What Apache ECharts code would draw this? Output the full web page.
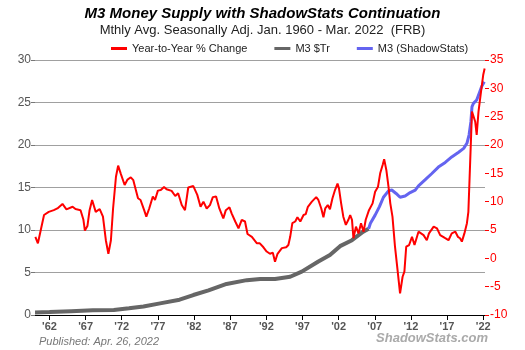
<!DOCTYPE html>
<html>
<head>
<meta charset="utf-8">
<script src="https://cdn.jsdelivr.net/npm/echarts@6/dist/echarts.min.js"></script>
<style>html,body{margin:0;padding:0;background:#fff}#c{width:525px;height:350px}</style>
</head>
<body>
<div id="c"></div>
<script>
// Year-to-Year % change (right axis)
var redYears = [1960.05,1960.4,1960.8,1961.25,1961.9,1962.6,1963.1,1963.8,1964.35,1965.2,1965.6,1966.3,1966.7,1966.9,1967.25,1967.55,1967.9,1968.4,1968.95,1969.4,1969.8,1970.15,1970.5,1970.8,1971.2,1971.5,1971.85,1972.1,1972.4,1972.8,1973.25,1973.6,1973.95,1974.25,1974.6,1975.1,1975.4,1975.8,1976.3,1976.6,1977.0,1977.4,1977.85,1978.2,1978.9,1979.4,1979.8,1980.3,1980.75,1981.2,1981.9,1982.45,1982.9,1983.3,1983.75,1984.2,1984.6,1985.05,1985.5,1986.05,1986.4,1986.9,1987.2,1987.7,1988.15,1988.6,1989.05,1989.4,1990.0,1990.7,1991.1,1991.6,1992.05,1992.5,1992.9,1993.2,1993.55,1994.15,1994.75,1995.05,1995.3,1995.6,1996.0,1996.3,1996.7,1997.15,1997.45,1997.75,1998.3,1998.9,1999.2,1999.6,1999.9,2000.15,2000.5,2000.8,2001.15,2001.5,2001.85,2002.05,2002.35,2002.65,2003.0,2003.35,2003.6,2003.85,2004.05,2004.4,2004.75,2005.1,2005.45,2005.75,2006.2,2006.7,2007.05,2007.45,2007.75,2008.1,2008.3,2008.6,2008.9,2009.15,2009.45,2009.8,2010.15,2010.5,2010.85,2011.1,2011.35,2011.75,2012.15,2012.5,2013.05,2013.75,2014.2,2014.5,2015.15,2015.6,2016.05,2016.75,2017.2,2017.65,2018.15,2018.5,2018.8,2019.05,2019.4,2019.75,2019.95,2020.2,2020.45,2020.6,2020.9,2021.1,2021.35,2021.7,2022.0,2022.2];
var redPct = [3.8,2.65,5.0,7.65,8.2,8.5,8.8,9.6,8.65,9.1,8.7,8.5,6.8,4.9,5.7,8.5,10.3,8.2,8.7,7.35,3.2,0.8,3.2,8.8,14.4,16.35,15.0,14.7,12.95,13.9,14.3,13.8,12.05,10.6,10.3,8.5,7.35,8.8,10.9,10.3,11.95,12.05,12.6,12.2,11.9,11.0,11.5,9.4,8.5,12.5,12.75,11.2,9.1,10.0,8.8,9.4,10.8,10.9,8.8,7.05,8.5,9.0,7.95,6.5,5.3,6.8,6.5,4.3,3.8,2.65,2.65,1.95,1.2,0.8,1.0,-0.6,0.8,1.8,1.95,2.35,3.8,6.2,6.5,7.25,6.5,7.65,7.8,9.1,10.0,10.8,10.3,8.8,7.25,8.8,9.4,8.65,10.6,12.05,13.2,12.35,9.7,7.35,5.9,6.8,7.65,6.8,3.55,5.6,4.4,6.2,4.7,6.8,8.5,9.7,11.75,12.65,15.0,16.5,17.5,15.6,12.65,9.7,7.35,2.05,-2.05,-6.2,-3.25,-2.35,2.05,2.35,3.8,2.35,4.7,4.1,3.2,4.4,5.6,5.3,4.1,3.55,3.2,4.4,4.7,3.8,3.55,2.95,4.4,6.2,8.2,8.5,25.9,25.6,24.1,21.8,25.9,29.4,32.35,33.5];

// M3 $Tr (Fed, left axis)
var m3Years = [1960.0,1962.0,1965.0,1968.0,1970.9,1973.0,1975.0,1977.3,1980.0,1981.9,1984.0,1986.5,1989.3,1991.15,1993.2,1995.3,1996.9,1999.2,2000.8,2002.2,2003.85,2005.4,2006.15];
var m3Tr = [0.3,0.35,0.45,0.55,0.6,0.8,1.0,1.37,1.8,2.35,2.9,3.65,4.1,4.24,4.24,4.5,5.1,6.3,7.06,8.1,8.8,9.8,10.15];

// M3 ShadowStats continuation (left axis)
var ssYears = [2006.15,2006.4,2007.05,2007.65,2008.2,2008.9,2009.35,2009.95,2010.5,2011.2,2011.9,2012.6,2013.05,2013.95,2014.9,2015.8,2016.75,2017.65,2018.6,2019.3,2019.75,2020.05,2020.3,2020.45,2020.65,2021.1,2021.45,2021.8,2022.15];
var ssTr = [10.15,10.8,11.75,12.75,13.85,14.6,14.7,14.3,13.85,14.0,14.4,14.7,15.2,15.9,16.65,17.4,17.95,18.6,19.15,19.6,20.2,21.2,22.75,24.5,24.9,25.3,26.1,26.9,27.45];

var xTickYears = [1962,1967,1972,1977,1982,1987,1992,1997,2002,2007,2012,2017,2022];
var leftTicks = [0,5,10,15,20,25,30];
var rightTicks = [-10,-5,0,5,10,15,20,25,30,35];

function zip(a,b){var r=[];for(var i=0;i<a.length;i++)r.push([a[i],b[i]]);return r;}

var FF = "'Liberation Sans', Arial, sans-serif";
var chart = echarts.init(document.getElementById('c'), null, {renderer:'canvas'});
chart.setOption({
  animation:false,
  textStyle:{fontFamily:FF},
  title:[
    {text:'M3 Money Supply with ShadowStats Continuation', left:'center', top:1,
     textStyle:{fontFamily:FF,fontSize:15,fontWeight:'bold',fontStyle:'italic',color:'#000'}},
    {text:'Mthly Avg. Seasonally Adj. Jan. 1960 - Mar. 2022  (FRB)', left:'center', top:19,
     textStyle:{fontFamily:FF,fontSize:13,fontWeight:'normal',color:'#222'}}
  ],
  legend:{
    data:['Year-to-Year % Change','M3 $Tr','M3 (ShadowStats)'],
    top:38, left:106, icon:'rect', itemWidth:16, itemHeight:3, itemGap:27,
    textStyle:{fontFamily:FF,fontSize:11,color:'#222'}
  },
  grid:{left:35,right:40,top:60,bottom:35},
  xAxis:{
    type:'value', min:1960, max:2022.25,
    axisLine:{show:true,lineStyle:{color:'#000',width:1}},
    axisTick:{show:true,customValues:xTickYears,length:5,lineStyle:{color:'#000'}},
    axisLabel:{customValues:xTickYears,margin:6,fontSize:11,fontWeight:'bold',color:'#555',fontFamily:FF,
      formatter:function(v){return "'"+String(Math.round(v)).slice(2);}},
    splitLine:{show:false}
  },
  yAxis:[
    {type:'value',min:0,max:30,interval:5,position:'left',
     axisLine:{show:false},
     axisTick:{show:true,length:4,lineStyle:{color:'#777'}},
     axisLabel:{fontSize:12,color:'#555',margin:4,fontFamily:FF},
     splitLine:{show:true,lineStyle:{color:'#a0a0a0',width:1}}},
    {type:'value',min:-10,max:35,interval:5,position:'right',
     axisLine:{show:false},
     axisTick:{show:true,length:4,lineStyle:{color:'#ff0000'}},
     axisLabel:{fontSize:12,color:'#ff0000',margin:5,fontFamily:FF},
     splitLine:{show:false}}
  ],
  series:[
    {name:'M3 $Tr',type:'line',yAxisIndex:0,data:zip(m3Years,m3Tr),showSymbol:false,symbol:'none',
     color:'#666666',lineStyle:{color:'#666666',width:4}},
    {name:'M3 (ShadowStats)',type:'line',yAxisIndex:0,data:zip(ssYears,ssTr),showSymbol:false,symbol:'none',
     color:'#6464f0',lineStyle:{color:'#6464f0',width:3}},
    {name:'Year-to-Year % Change',type:'line',yAxisIndex:1,data:zip(redYears,redPct),showSymbol:false,symbol:'none',
     color:'#ff0000',lineStyle:{color:'#ff0000',width:2}}
  ],
  graphic:[
    {type:'text',left:39,top:336,style:{text:'Published: Apr. 26, 2022',fill:'#777',font:"italic 11px "+FF}},
    {type:'text',right:37,top:332,style:{text:'ShadowStats.com',fill:'#aaaaaa',font:"italic bold 13px "+FF}}
  ]
});
</script>
</body>
</html>
